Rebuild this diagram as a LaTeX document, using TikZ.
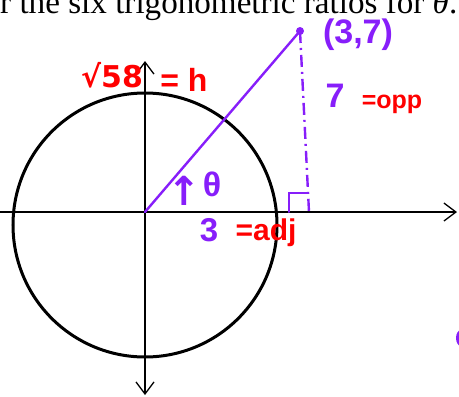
\documentclass[tikz,border=0pt]{standalone}
\usepackage{fontspec}
\setmainfont{Liberation Serif}
\newfontfamily\hand{Liberation Sans}
\newfontfamily\sym{DejaVu Sans}
\usetikzlibrary{arrows.meta}
\definecolor{pen}{RGB}{135,30,250}
\definecolor{redpen}{RGB}{255,0,0}
\newcommand{\fs}[1]{\fontsize{#1}{#1}\selectfont}
\tikzset{
  axis/.style={line width=1.3pt, -{Straight Barb[length=12pt,width=18pt]}},
  ring/.style={line width=3pt},
  purp/.style={pen, line width=2.4pt, line cap=round},
  dashdot/.style={pen, line width=2.4pt, dash pattern=on 12pt off 5pt on 2pt off 5pt},
  plabel/.style={text=pen, inner sep=0pt},
  rlabel/.style={text=redpen, inner sep=0pt},
}
\begin{document}
\begin{tikzpicture}[x=1pt,y=-1pt]
\useasboundingbox (0,0) rectangle (459,397);
\fill[white] (0,0) rectangle (459,397);
% header text (cut at the top, as in the source)
\node[anchor=base west, inner sep=0pt] (head) at (0,13)
  {\resizebox{457pt}{!}{r the six trigonometric ratios for \textit{θ}.}};
% coordinates
\coordinate (O) at (145,212);
\coordinate (L) at (-2,212);
\coordinate (R) at (457,212);
\coordinate (T) at (145,61);
\coordinate (B) at (145,395);
\coordinate (C) at (145,225);
\coordinate (P) at (300,31);
\coordinate (F) at (309,212);
% axes
\draw[axis] (L) -- (R);
\draw[axis] (O) -- (T);
\draw[axis] (O) -- (B);
% circle
\draw[ring] (C) circle [radius=132];
% hypotenuse
\draw[purp] (O) -- (P);
\fill[pen] (P) circle [radius=4];
% opposite side
\draw[dashdot] (P) -- (F);
% right angle mark
\coordinate (RA1) at (289,212);
\coordinate (RA2) at (289,193);
\coordinate (RA3) at (307,193);
\draw[purp, line width=2pt] (RA1) -- (RA2) -- (RA3);
% labels
\node[plabel, font=\hand\bfseries\fs{34}] (pt) at (358,35) {(3,7)};
\node[plabel, font=\hand\bfseries\fs{34}] (seven) at (335,96) {7};
\node[rlabel, font=\hand\bfseries\fs{25}] (opp) at (392,104) {=opp};
\node[plabel, font=\sym\bfseries\fs{40}] (arr) at (184,191) {↑};
\node[plabel, font=\hand\bfseries\fs{34}] (th) at (212,184) {θ};
\node[plabel, font=\hand\bfseries\fs{33}] (three) at (209,230) {3};
\node[rlabel, font=\hand\bfseries\fs{30}] (adj) at (266,233) {=adj};
\node[rlabel, font=\sym\bfseries\fs{30}] (hyp) at (112,75) {√58};
\node[rlabel, font=\hand\bfseries\fs{32}] (eqh) at (184,80) {= h};
% stray mark at right edge
\fill[pen] (461,338) ellipse [x radius=5, y radius=8];
\end{tikzpicture}
\end{document}
